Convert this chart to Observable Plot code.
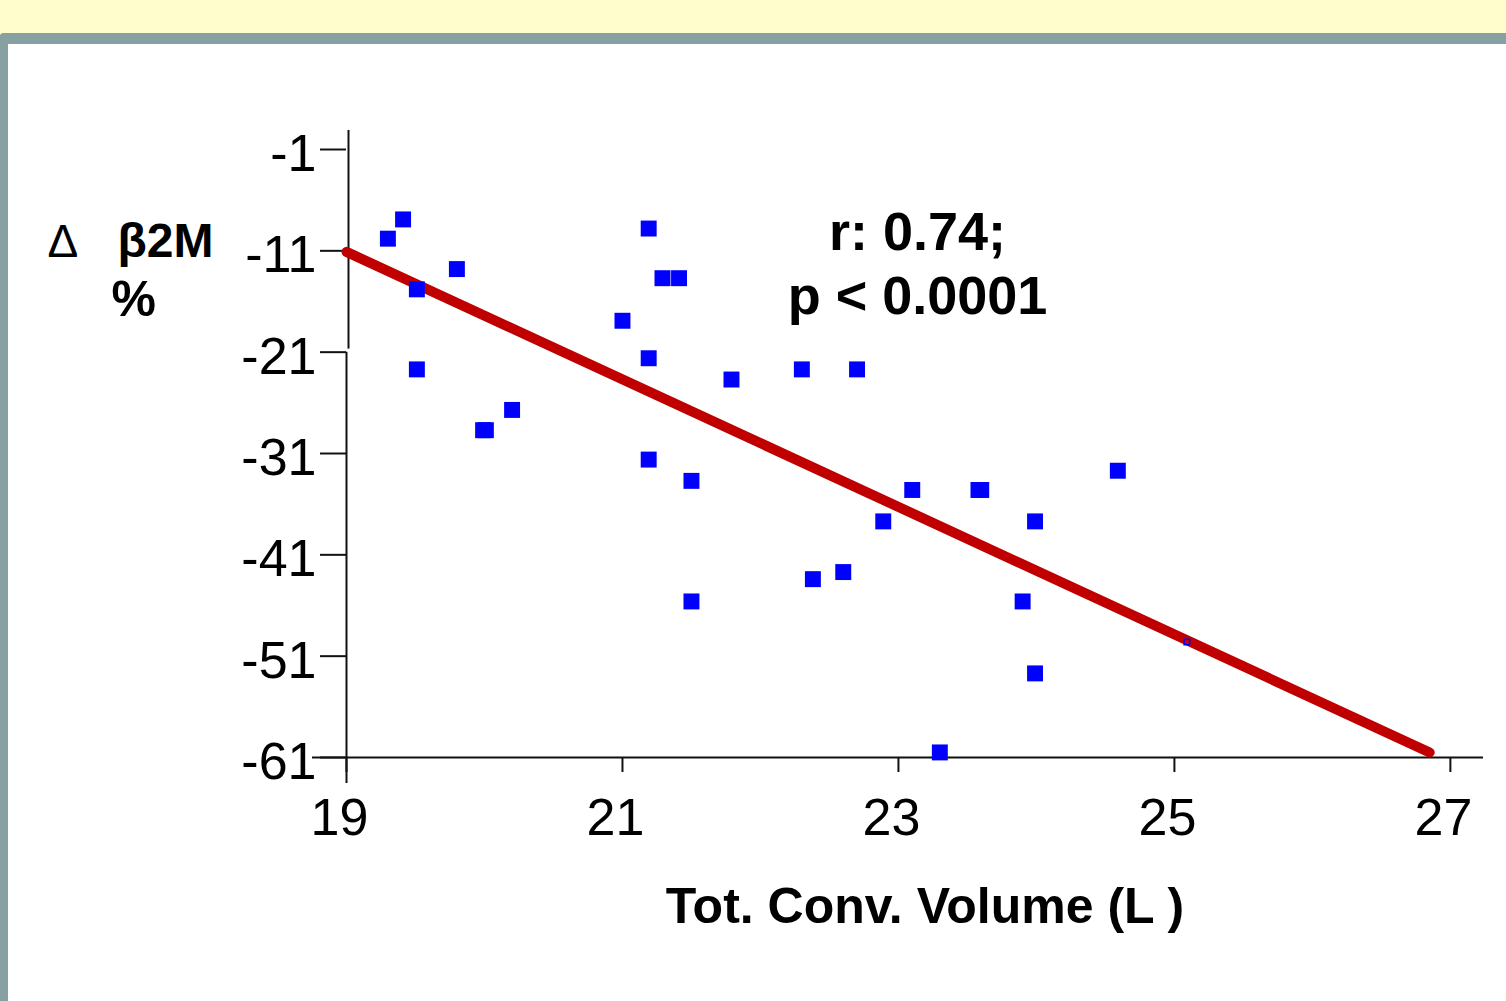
<!DOCTYPE html>
<html>
<head>
<meta charset="utf-8">
<script src="https://cdn.jsdelivr.net/npm/d3@7"></script>
<script src="https://cdn.jsdelivr.net/npm/@observablehq/plot@0.6"></script>
<style>
  html, body { margin: 0; padding: 0; }
  body { width: 1506px; height: 1001px; overflow: hidden; background: #FFFDCC; position: relative; font-family: "Liberation Sans", Arial, sans-serif; }
  #frame { position: absolute; left: 0; top: 33px; width: 1498px; height: 957px; background: #ffffff; border-top: 11px solid #87A0A1; border-left: 8px solid #87A0A1; border-top-left-radius: 4px; }
  #chart { position: absolute; left: 0; top: 0; }
</style>
</head>
<body>
<div id="frame"></div>
<div id="chart"></div>
<script>
// ---- data ----
const convVolume = [19.30, 19.41, 19.51, 19.80, 19.51, 19.99, 20.01, 20.20, 21.00, 21.19, 21.19, 21.29, 21.41, 21.19, 21.50, 21.50, 21.79, 22.30, 22.70, 22.89, 23.10, 23.58, 23.60, 23.99, 24.59, 22.38, 22.60, 23.90, 23.99, 23.30];
const deltaB2M   = [-9.8, -7.9, -14.8, -12.8, -22.7, -28.7, -28.7, -26.7, -17.9, -8.8, -21.6, -13.7, -13.7, -31.6, -33.7, -45.6, -23.7, -22.7, -22.7, -37.7, -34.6, -34.6, -34.6, -37.7, -32.7, -43.4, -42.7, -45.6, -52.7, -60.5];
const smallPointX = [25.09];
const smallPointY = [-49.6];
const fitX = [19.0, 26.85];
const fitY = [-11.1, -60.5];
const xTicks = [19, 21, 23, 25, 27];
const yTicks = [-1, -11, -21, -31, -41, -51, -61];
const xTitle = "Tot. Conv. Volume (L )";
const yTitleDelta = "Δ";
const yTitleName = "β2M";
const yTitleUnit = "%";
const statsText = "r: 0.74;\np < 0.0001";

const points = convVolume.map((x, i) => ({x, y: deltaB2M[i]}));
const small = smallPointX.map((x, i) => ({x, y: smallPointY[i]}));
const fit = fitX.map((x, i) => ({x, y: fitY[i]}));

const yTop = 0.875;
const ink = "#111111";

const chart = Plot.plot({
  width: 1506,
  height: 1001,
  marginLeft: 346,
  marginRight: 23,
  marginTop: 130,
  marginBottom: 244,
  style: {background: "transparent", fontFamily: "'Liberation Sans', Arial, sans-serif", color: ink},
  x: {domain: [19, 27.24]},
  y: {domain: [-61, yTop]},
  marks: [
    // y axis line (slightly offset upper part, extended below as the 19 tick)
    Plot.ruleX([19], {y1: -21, y2: -61, insetBottom: -26, stroke: ink, strokeWidth: 2}),
    Plot.ruleX([19], {y1: yTop, y2: -20.7, dx: 2, stroke: ink, strokeWidth: 2}),
    // x axis line extended to the left
    Plot.ruleY([-61], {insetLeft: -34, stroke: ink, strokeWidth: 2}),
    // tick marks
    Plot.ruleY(yTicks, {y: d => d, x1: 19, x2: 19, insetLeft: -26, stroke: ink, strokeWidth: 2}),
    Plot.ruleX(xTicks, {x: d => d, y1: -61, y2: -61, insetBottom: -15, stroke: ink, strokeWidth: 2}),
    // tick labels
    Plot.axisY({ticks: yTicks, tickSize: 0, tickPadding: 30, fontSize: 52, dy: 5, label: null,
      tickFormat: d => String(d), fill: "#000"}),
    Plot.axisX({ticks: xTicks, tickSize: 0, tickPadding: 41, fontSize: 52, dx: -7, label: null,
      tickFormat: d => String(d), fill: "#000"}),
    Plot.line(fit, {x: "x", y: "y", stroke: "#C00000", strokeWidth: 10, strokeLinecap: "round"}),
    Plot.dot(points, {x: "x", y: "y", symbol: "square", r: 9, fill: "#0000FF", stroke: "none"}),
    Plot.dot(small, {x: "x", y: "y", symbol: "square", r: 3.1, fill: "none", stroke: "#0000FF", strokeWidth: 1.5}),
    Plot.text([statsText], {frameAnchor: "top-left", textAnchor: "middle", lineAnchor: "top", dx: 571, dy: 74,
      fontSize: 54, fontWeight: "bold", lineHeight: 1.185, fill: "#000"}),
    Plot.text([xTitle], {frameAnchor: "bottom", textAnchor: "middle", lineAnchor: "top", dx: 10, dy: 130,
      fontSize: 50, fontWeight: "bold", fill: "#000"}),
    Plot.text([yTitleDelta], {frameAnchor: "top-left", textAnchor: "start", lineAnchor: "top", dx: -299, dy: 94,
      fontSize: 46, fill: "#000"}),
    Plot.text([yTitleName], {frameAnchor: "top-left", textAnchor: "start", lineAnchor: "top", dx: -229, dy: 92,
      fontSize: 48, fontWeight: "bold", fill: "#000"}),
    Plot.text([yTitleUnit], {frameAnchor: "top-left", textAnchor: "start", lineAnchor: "top", dx: -235, dy: 150,
      fontSize: 50, fontWeight: "bold", fill: "#000"})
  ]
});
document.getElementById("chart").appendChild(chart);
</script>
</body>
</html>
